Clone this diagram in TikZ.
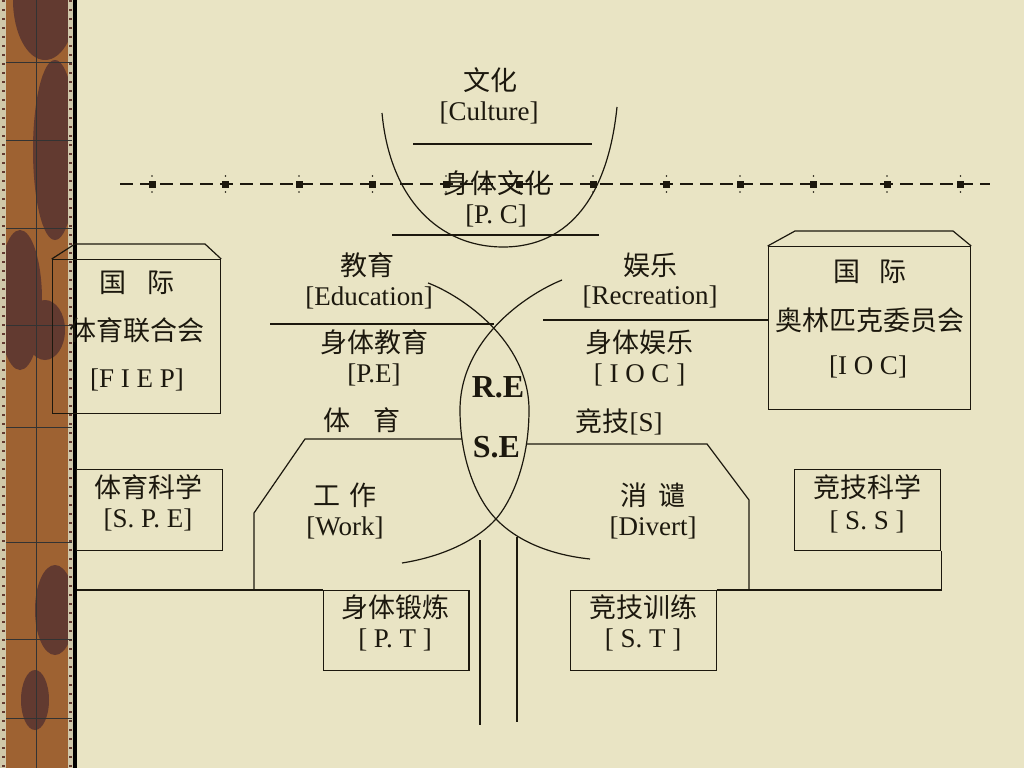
\documentclass[tikz,border=0pt]{standalone}
\usepackage{fontspec}
\setmainfont{Liberation Serif}
\newfontfamily\cjk{Noto Sans CJK SC}
\definecolor{paper}{RGB}{233,228,196}
\definecolor{woodA}{RGB}{158,98,50}
\definecolor{woodB}{RGB}{98,58,48}
\definecolor{band}{RGB}{208,200,170}
\definecolor{ink}{RGB}{28,24,14}
\begin{document}
\begin{tikzpicture}[x=1pt,y=-1pt,
  ln/.style={draw=ink,line width=1.2pt},
  txt/.style={text=ink,font=\fontsize{27}{32}\selectfont,inner sep=0pt},
  bigtxt/.style={text=ink,font=\fontsize{32}{36}\selectfont\bfseries,inner sep=0pt},
  boxn/.style={draw=ink,line width=1.2pt,rectangle,inner sep=0pt,anchor=north west},
  marker/.style={fill=ink,draw=none,minimum size=7pt,inner sep=0pt,rectangle},
  dashline/.style={draw=ink,line width=1.3pt,dash pattern=on 13pt off 7pt}
]
% background
\fill[paper] (0,0) rectangle (1024,768);
\useasboundingbox (0,0) rectangle (1024,768);
% wood strip
\fill[woodA] (0,0) rectangle (73,768);
\fill[woodB] (45,0) ellipse [x radius=32pt, y radius=60pt];
\fill[woodB] (55,150) ellipse [x radius=22pt, y radius=90pt];
\fill[woodB] (20,300) ellipse [x radius=22pt, y radius=70pt];
\fill[woodB] (45,330) ellipse [x radius=20pt, y radius=30pt];
\fill[woodB] (55,610) ellipse [x radius=20pt, y radius=45pt];
\fill[woodB] (35,700) ellipse [x radius=14pt, y radius=30pt];
\fill[band] (0,0) rectangle (6,768);
\fill[band] (68,0) rectangle (73,768);
\draw[woodB,line width=3pt,dash pattern=on 2pt off 7pt] (3,0) -- (3,768);
\draw[woodB,line width=3pt,dash pattern=on 2pt off 7pt] (70.5,0) -- (70.5,768);
\draw[black!80,line width=0.8pt] (36,0) -- (36,768);
\foreach \yy in {62,140,228,325,427,542,639,718}
  \draw[black!80,line width=0.8pt] (6,\yy) -- (72,\yy);
\draw[black,line width=3.5pt] (75,0) -- (75,768);

% dashed line with markers
\coordinate (dashL) at (120,184);
\coordinate (dashR) at (990,184);
\draw[dashline] (dashL) -- (dashR);
\foreach \k in {0,...,11}{
  \node[marker] (m\k) at ({152+73.5*\k},184) {};
  \fill[ink] ({152+73.5*\k},176) circle (0.9pt);
  \fill[ink] ({152+73.5*\k},192) circle (0.9pt);
}

% culture U curve and lines
\coordinate (uL) at (382,113);
\coordinate (uB) at (503,247);
\coordinate (uR) at (617,107);
\draw[ln] (uL) .. controls (390,200) and (440,247) .. (uB) .. controls (570,247) and (608,195) .. (uR);
\coordinate (c1L) at (413,144); \coordinate (c1R) at (592,144);
\draw[ln] (c1L) -- (c1R);
\coordinate (c2L) at (392,235); \coordinate (c2R) at (599,235);
\draw[ln] (c2L) -- (c2R);

\node[txt] (wh) at (490,80) {\cjk 文化};
\node[txt] (cul) at (489,113) {[Culture]};
\node[txt] (stwh) at (497,183) {\cjk 身体文化};
\node[txt] (pc) at (496,216) {[P. C]};

% boxes
\node[boxn,minimum width=168.3pt,minimum height=154pt] (fiep) at (51.7,259) {};
\draw[ln] (fiep.north west) -- (75,244) -- (205,244) -- (fiep.north east);
\node[boxn,minimum width=145.7pt,minimum height=81pt] (spe) at (76,469) {};
\node[boxn,minimum width=202.3pt,minimum height=163pt] (ioc) at (767.7,246) {};
\draw[ln] (ioc.north west) -- (795,231) -- (953,231) -- (ioc.north east);
\node[boxn,minimum width=146pt,minimum height=81pt] (ss) at (794,469) {};
\node[boxn,minimum width=145.7pt,minimum height=80pt] (pt) at (322.6,590) {};
\node[boxn,minimum width=146pt,minimum height=80pt] (st) at (569.5,590) {};

% box texts
\node[txt] (fiep1) at (137,283) {\cjk 国\hspace{0.75em}际};
\node[txt] (fiep2) at (137,330) {\cjk 体育联合会};
\node[txt] (fiep3) at (137,380) {[F I E P]};
\node[txt] (spe1) at (148,487) {\cjk 体育科学};
\node[txt] (spe2) at (148,520) {[S. P. E]};
\node[txt] (ioc1) at (870,272) {\cjk 国\hspace{0.7em}际};
\node[txt] (ioc2) at (870,320) {\cjk 奥林匹克委员会};
\node[txt] (ioc3) at (868,367) {[I O C]};
\node[txt] (ss1) at (867,487) {\cjk 竞技科学};
\node[txt] (ss2) at (867,522) {[ S. S ]};
\node[txt] (pt1) at (395,607) {\cjk 身体锻炼};
\node[txt] (pt2) at (395,640) {[ P. T ]};
\node[txt] (st1) at (643,607) {\cjk 竞技训练};
\node[txt] (st2) at (643,640) {[ S. T ]};

% middle texts
\node[txt] (jy) at (367,265) {\cjk 教育};
\node[txt] (edu) at (369,298) {[Education]};
\node[txt] (stjy) at (374,342) {\cjk 身体教育};
\node[txt] (pe) at (374,375) {[P.E]};
\node[txt] (ty) at (362,420) {\cjk 体\hspace{0.85em}育};
\node[txt] (yl) at (650,265) {\cjk 娱乐};
\node[txt] (rec) at (650,297) {[Recreation]};
\node[txt] (styl) at (639.5,342) {\cjk 身体娱乐};
\node[txt] (iocm) at (639.5,375) {[ I O C ]};
\node[txt] (jj) at (619,422) {{\cjk 竞技}[S]};
\node[txt] (gz) at (345,495) {\cjk 工\hspace{0.35em}作};
\node[txt] (work) at (345,528) {[Work]};
\node[txt] (xq) at (653,495) {\cjk 消\hspace{0.4em}谴};
\node[txt] (div) at (653,528) {[Divert]};
\node[bigtxt] (re) at (498,387) {R.E};
\node[bigtxt] (se) at (496.5,447) {S.E};

% horizontal lines near lens
\coordinate (eduL) at (270,324); \coordinate (eduR) at (494,324);
\draw[ln] (eduL) -- (eduR);
\coordinate (recL) at (543,320);
\draw[ln] (recL) -- (recL -| ioc.west);

% lens curves
\coordinate (lensTop) at (494,322);
\coordinate (lensBot) at (496,519);
\draw[ln] (428,283) .. controls (460,295) and (529,340) .. (529,410)
  .. controls (529,465) and (510,503) .. (lensBot)
  .. controls (475,542) and (440,557) .. (402,563);
\draw[ln] (562,280) .. controls (525,295) and (460,340) .. (460,410)
  .. controls (460,465) and (480,503) .. (lensBot)
  .. controls (518,542) and (552,555) .. (590,559);

% left polygon (体育 / 工作)
\coordinate (lensL) at (462,439);
\coordinate (stripB) at (77,590);
\draw[ln] (lensL) -- (305,439) -- (254,513) -- (254,590);
\draw[ln] (stripB) -- (pt.north west);
% right polygon (竞技 / 消谴)
\coordinate (lensR) at (527,444);
\draw[ln] (lensR) -- (707,444) -- (749,500) -- (749,590);
\draw[ln] (st.north east) -- (st.north east -| ss.south east) -- (ss.south east);

% vertical stems
\coordinate (v1a) at (480,540); \coordinate (v1b) at (480,725);
\coordinate (v2a) at (517,537); \coordinate (v2b) at (517,722);
\draw[ln] (v1a) -- (v1b);
\draw[ln] (v2a) -- (v2b);
\end{tikzpicture}
\end{document}
